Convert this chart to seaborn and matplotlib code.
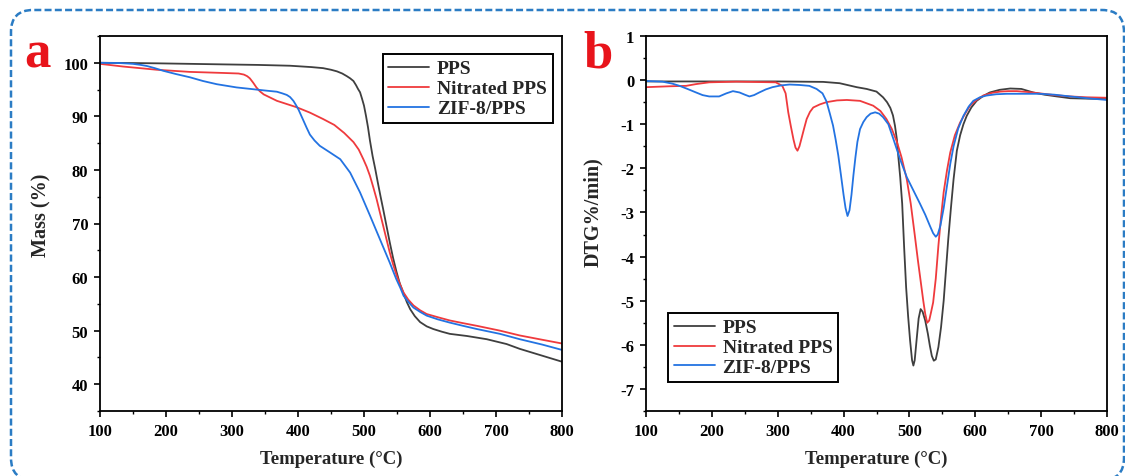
import matplotlib
matplotlib.use("Agg")
import matplotlib.pyplot as plt
import pandas as pd
import seaborn as sns
from matplotlib.patches import FancyBboxPatch
from matplotlib.ticker import MultipleLocator
from matplotlib.transforms import IdentityTransform

# ---------------- TGA (mass loss) ----------------
tga_pps_t = [100, 150, 186, 237, 287, 340, 388, 420, 438, 450, 459, 467, 474, 479, 484, 488,
             491, 494, 497, 500, 503, 506, 509, 513, 517, 521, 525, 529, 534, 539, 544, 549,
             554, 560, 565, 570, 577, 585, 595, 605, 618, 630, 656, 686, 716, 736, 760, 780, 800]
tga_pps_m = [100.0, 99.95, 99.9, 99.8, 99.7, 99.6, 99.45, 99.2, 99.0, 98.7, 98.4, 98.0, 97.5,
             97.1, 96.6, 95.8, 95.1, 94.5, 93.3, 92.0, 90.1, 88.0, 85.5, 82.6, 80.2, 77.6, 75.1,
             72.7, 69.6, 66.5, 63.6, 61.1, 58.9, 56.9, 55.3, 54.0, 52.7, 51.6, 50.8, 50.3, 49.8,
             49.4, 49.0, 48.4, 47.5, 46.6, 45.7, 44.95, 44.2]

tga_nit_t = [100, 135, 186, 236, 287, 310, 318, 323, 327, 332, 337, 342, 348, 358, 368, 383,
             398, 418, 438, 455, 470, 484, 492, 499, 504, 509, 514, 519, 524, 529, 534, 539,
             544, 550, 555, 560, 567, 575, 585, 595, 612, 630, 650, 671, 706, 736, 770, 800]
tga_nit_m = [99.8, 99.3, 98.7, 98.3, 98.1, 98.0, 97.8, 97.5, 97.1, 96.3, 95.4, 94.7, 94.1,
             93.5, 92.9, 92.3, 91.7, 90.7, 89.5, 88.4, 86.9, 85.2, 83.8, 82.0, 80.6, 78.9, 76.8,
             74.6, 72.1, 69.6, 67.1, 64.6, 62.4, 60.1, 58.5, 57.1, 55.8, 54.7, 53.8, 53.1, 52.5,
             51.9, 51.4, 50.9, 50.0, 49.1, 48.3, 47.6]

tga_zif_t = [100, 130, 150, 162, 171, 183, 196, 215, 236, 256, 277, 292, 307, 322, 337, 352,
             368, 376, 383, 388, 393, 397, 401, 405, 409, 413, 418, 425, 433, 448, 464, 479,
             494, 509, 524, 539, 549, 555, 560, 567, 575, 585, 595, 612, 630, 650, 671, 706,
             736, 770, 800]
tga_zif_m = [100.0, 99.95, 99.8, 99.6, 99.4, 99.0, 98.5, 97.9, 97.3, 96.6, 96.0, 95.7, 95.4,
             95.2, 95.0, 94.8, 94.6, 94.3, 94.0, 93.6, 92.9, 92.1, 91.2, 90.1, 89.0, 87.9, 86.6,
             85.5, 84.5, 83.3, 82.0, 79.5, 75.8, 71.5, 67.1, 62.7, 59.6, 58.0, 56.5, 55.4, 54.3,
             53.5, 52.8, 52.1, 51.5, 50.9, 50.3, 49.4, 48.4, 47.4, 46.4]

# ---------------- DTG (derivative) ----------------
dtg_pps_t = [100, 200, 300, 369, 394, 420, 435, 450, 460, 466, 471, 475, 478, 481, 483, 486,
             489, 492, 495, 498, 501, 504, 506, 508, 511, 514, 517, 520, 524, 528, 531, 534,
             537, 540, 544, 548, 552, 556, 559, 563, 567, 572, 577, 582, 587, 594, 602, 612,
             622, 637, 653, 670, 688, 705, 724, 744, 770, 800]
dtg_pps_d = [-0.03, -0.03, -0.03, -0.04, -0.07, -0.16, -0.2, -0.26, -0.39, -0.5, -0.63, -0.8,
             -1.03, -1.35, -1.71, -2.2, -2.8, -3.8, -4.7, -5.35, -5.9, -6.35, -6.47, -6.35,
             -5.87, -5.4, -5.19, -5.25, -5.45, -5.75, -6.02, -6.25, -6.36, -6.33, -6.05, -5.6,
             -5.0, -4.2, -3.6, -2.9, -2.25, -1.6, -1.25, -1.0, -0.81, -0.62, -0.47, -0.36,
             -0.28, -0.22, -0.19, -0.2, -0.28, -0.33, -0.37, -0.41, -0.42, -0.43]

dtg_nit_t = [100, 135, 161, 176, 196, 237, 297, 307, 312, 316, 320, 324, 327, 330, 333, 336,
             340, 344, 349, 354, 364, 374, 390, 405, 425, 445, 456, 465, 473, 481, 488, 496,
             502, 508, 513, 517, 521, 524, 527, 530, 533, 536, 540, 544, 548, 552, 557, 562,
             569, 577, 585, 592, 602, 612, 625, 638, 650, 663, 680, 698, 720, 744, 770, 800]
dtg_nit_d = [-0.16, -0.14, -0.13, -0.09, -0.05, -0.035, -0.05, -0.13, -0.3, -0.73, -1.05,
             -1.35, -1.53, -1.6, -1.5, -1.33, -1.1, -0.88, -0.72, -0.62, -0.55, -0.5, -0.46,
             -0.45, -0.47, -0.58, -0.7, -0.88, -1.1, -1.4, -1.75, -2.25, -2.8, -3.5, -4.1,
             -4.55, -5.0, -5.3, -5.5, -5.45, -5.25, -5.04, -4.5, -3.75, -3.1, -2.54, -2.05,
             -1.64, -1.25, -0.96, -0.75, -0.58, -0.45, -0.35, -0.29, -0.26, -0.25, -0.25,
             -0.27, -0.3, -0.34, -0.37, -0.39, -0.4]

dtg_zif_t = [100, 125, 140, 151, 163, 176, 186, 196, 211, 222, 232, 242, 250, 257, 264, 272,
             282, 292, 305, 318, 333, 348, 359, 368, 374, 379, 384, 388, 392, 396, 400, 403,
             406, 409, 412, 415, 418, 421, 425, 430, 435, 441, 448, 454, 460, 468, 476, 486,
             496, 506, 516, 524, 531, 536, 540, 543, 547, 552, 557, 562, 567, 574, 582, 590,
             597, 607, 617, 632, 648, 670, 698, 720, 744, 770, 800]
dtg_zif_d = [-0.02, -0.035, -0.08, -0.13, -0.2, -0.28, -0.34, -0.37, -0.37, -0.3, -0.25,
             -0.28, -0.33, -0.37, -0.34, -0.28, -0.21, -0.16, -0.12, -0.1, -0.11, -0.13, -0.2,
             -0.3, -0.48, -0.75, -1.03, -1.35, -1.71, -2.15, -2.6, -2.9, -3.08, -2.95, -2.6,
             -2.15, -1.75, -1.4, -1.11, -0.95, -0.84, -0.76, -0.73, -0.76, -0.84, -1.0, -1.35,
             -1.8, -2.2, -2.5, -2.8, -3.05, -3.3, -3.47, -3.55, -3.5, -3.3, -2.9, -2.4, -1.9,
             -1.5, -1.1, -0.81, -0.6, -0.47, -0.39, -0.35, -0.32, -0.31, -0.31, -0.31, -0.33,
             -0.37, -0.41, -0.45]

samples = ["PPS", "Nitrated PPS", "ZIF-8/PPS"]
colors = {"PPS": "#3f3f3f", "Nitrated PPS": "#ef3a3d", "ZIF-8/PPS": "#2373e2"}

tga = pd.concat([
    pd.DataFrame({"T": tga_pps_t, "v": tga_pps_m, "sample": "PPS"}),
    pd.DataFrame({"T": tga_nit_t, "v": tga_nit_m, "sample": "Nitrated PPS"}),
    pd.DataFrame({"T": tga_zif_t, "v": tga_zif_m, "sample": "ZIF-8/PPS"}),
], ignore_index=True)
dtg = pd.concat([
    pd.DataFrame({"T": dtg_pps_t, "v": dtg_pps_d, "sample": "PPS"}),
    pd.DataFrame({"T": dtg_nit_t, "v": dtg_nit_d, "sample": "Nitrated PPS"}),
    pd.DataFrame({"T": dtg_zif_t, "v": dtg_zif_d, "sample": "ZIF-8/PPS"}),
], ignore_index=True)

sns.set_style("ticks")
plt.rcParams.update({
    "font.family": ["Liberation Serif", "DejaVu Serif"],
    "font.weight": "bold",
    "axes.labelweight": "bold",
    "axes.unicode_minus": False,
    "axes.edgecolor": "black",
    "axes.linewidth": 1.3,
    "xtick.color": "black",
    "ytick.color": "black",
})

fig = plt.figure(figsize=(11.25, 4.77), dpi=100)
ax_a = fig.add_axes([100 / 1125, 65 / 477, 462 / 1125, 375 / 477])
ax_b = fig.add_axes([646 / 1125, 65 / 477, 461 / 1125, 375 / 477])

for ax, df in ((ax_a, tga), (ax_b, dtg)):
    sns.lineplot(data=df, x="T", y="v", hue="sample", hue_order=samples, palette=colors,
                 sort=False, estimator=None, linewidth=1.3, ax=ax)

ax_a.set_xlim(100, 800)
ax_a.set_ylim(35, 105)
ax_a.set_yticks([40, 50, 60, 70, 80, 90, 100])
ax_a.yaxis.set_minor_locator(MultipleLocator(5))
ax_a.set_ylabel("Mass (%)", fontsize=14.5)
ax_a.yaxis.set_label_coords(-0.104, 0.525)

ax_b.set_xlim(100, 800)
ax_b.set_ylim(-7.5, 1)
ax_b.set_yticks(range(-7, 2))
ax_b.yaxis.set_minor_locator(MultipleLocator(0.5))
ax_b.set_ylabel("DTG%/min)", fontsize=14.5)
ax_b.yaxis.set_label_coords(-0.093, 0.533)

for ax in (ax_a, ax_b):
    ax.set_xticks(range(100, 801, 100))
    ax.xaxis.set_minor_locator(MultipleLocator(50))
    ax.set_xlabel("Temperature (\u00b0C)", fontsize=13.5, labelpad=8)
    ax.tick_params(which="major", direction="out", length=4.5, width=1.2,
                   labelsize=12, pad=4)
    ax.tick_params(which="minor", direction="out", length=2.3, width=1.0)
    ax.tick_params(top=False, right=False, which="both")
    for s in ax.spines.values():
        s.set_visible(True)
        s.set_linewidth(1.3)
    for lbl in ax.get_xticklabels() + ax.get_yticklabels():
        lbl.set_fontweight("bold")

leg_kw = dict(fontsize=14, frameon=True, fancybox=False, edgecolor="black",
              framealpha=1, handlelength=2.1, handletextpad=0.4, labelspacing=0.12,
              borderpad=0.3, borderaxespad=0)
handles, labels = ax_a.get_legend_handles_labels()
la = ax_a.legend(handles, labels, loc="upper right", bbox_to_anchor=(0.98, 0.952), **leg_kw)
handles, labels = ax_b.get_legend_handles_labels()
lb = ax_b.legend(handles, labels, loc="lower left", bbox_to_anchor=(0.048, 0.077), **leg_kw)
for lg in (la, lb):
    lg.get_frame().set_linewidth(1.4)
    for t in lg.get_texts():
        t.set_fontweight("bold")

# panel letters
fig.text(24 / 1125, (477 - 67) / 477, "a", fontsize=38, color="#e8141b",
         fontweight="bold", va="baseline", ha="left")
fig.text(583 / 1125, (477 - 67) / 477, "b", fontsize=38, color="#e8141b",
         fontweight="bold", va="baseline", ha="left")

# dashed rounded frame around both panels
frame = FancyBboxPatch((11, -4), 1113, 470, boxstyle="round,pad=0,rounding_size=22",
                       transform=IdentityTransform(), fill=False, edgecolor="#2b7cc4",
                       linewidth=1.8, linestyle=(0, (2.8, 1.3)), clip_on=False)
fig.add_artist(frame)

fig.savefig("out.png", dpi=100)
